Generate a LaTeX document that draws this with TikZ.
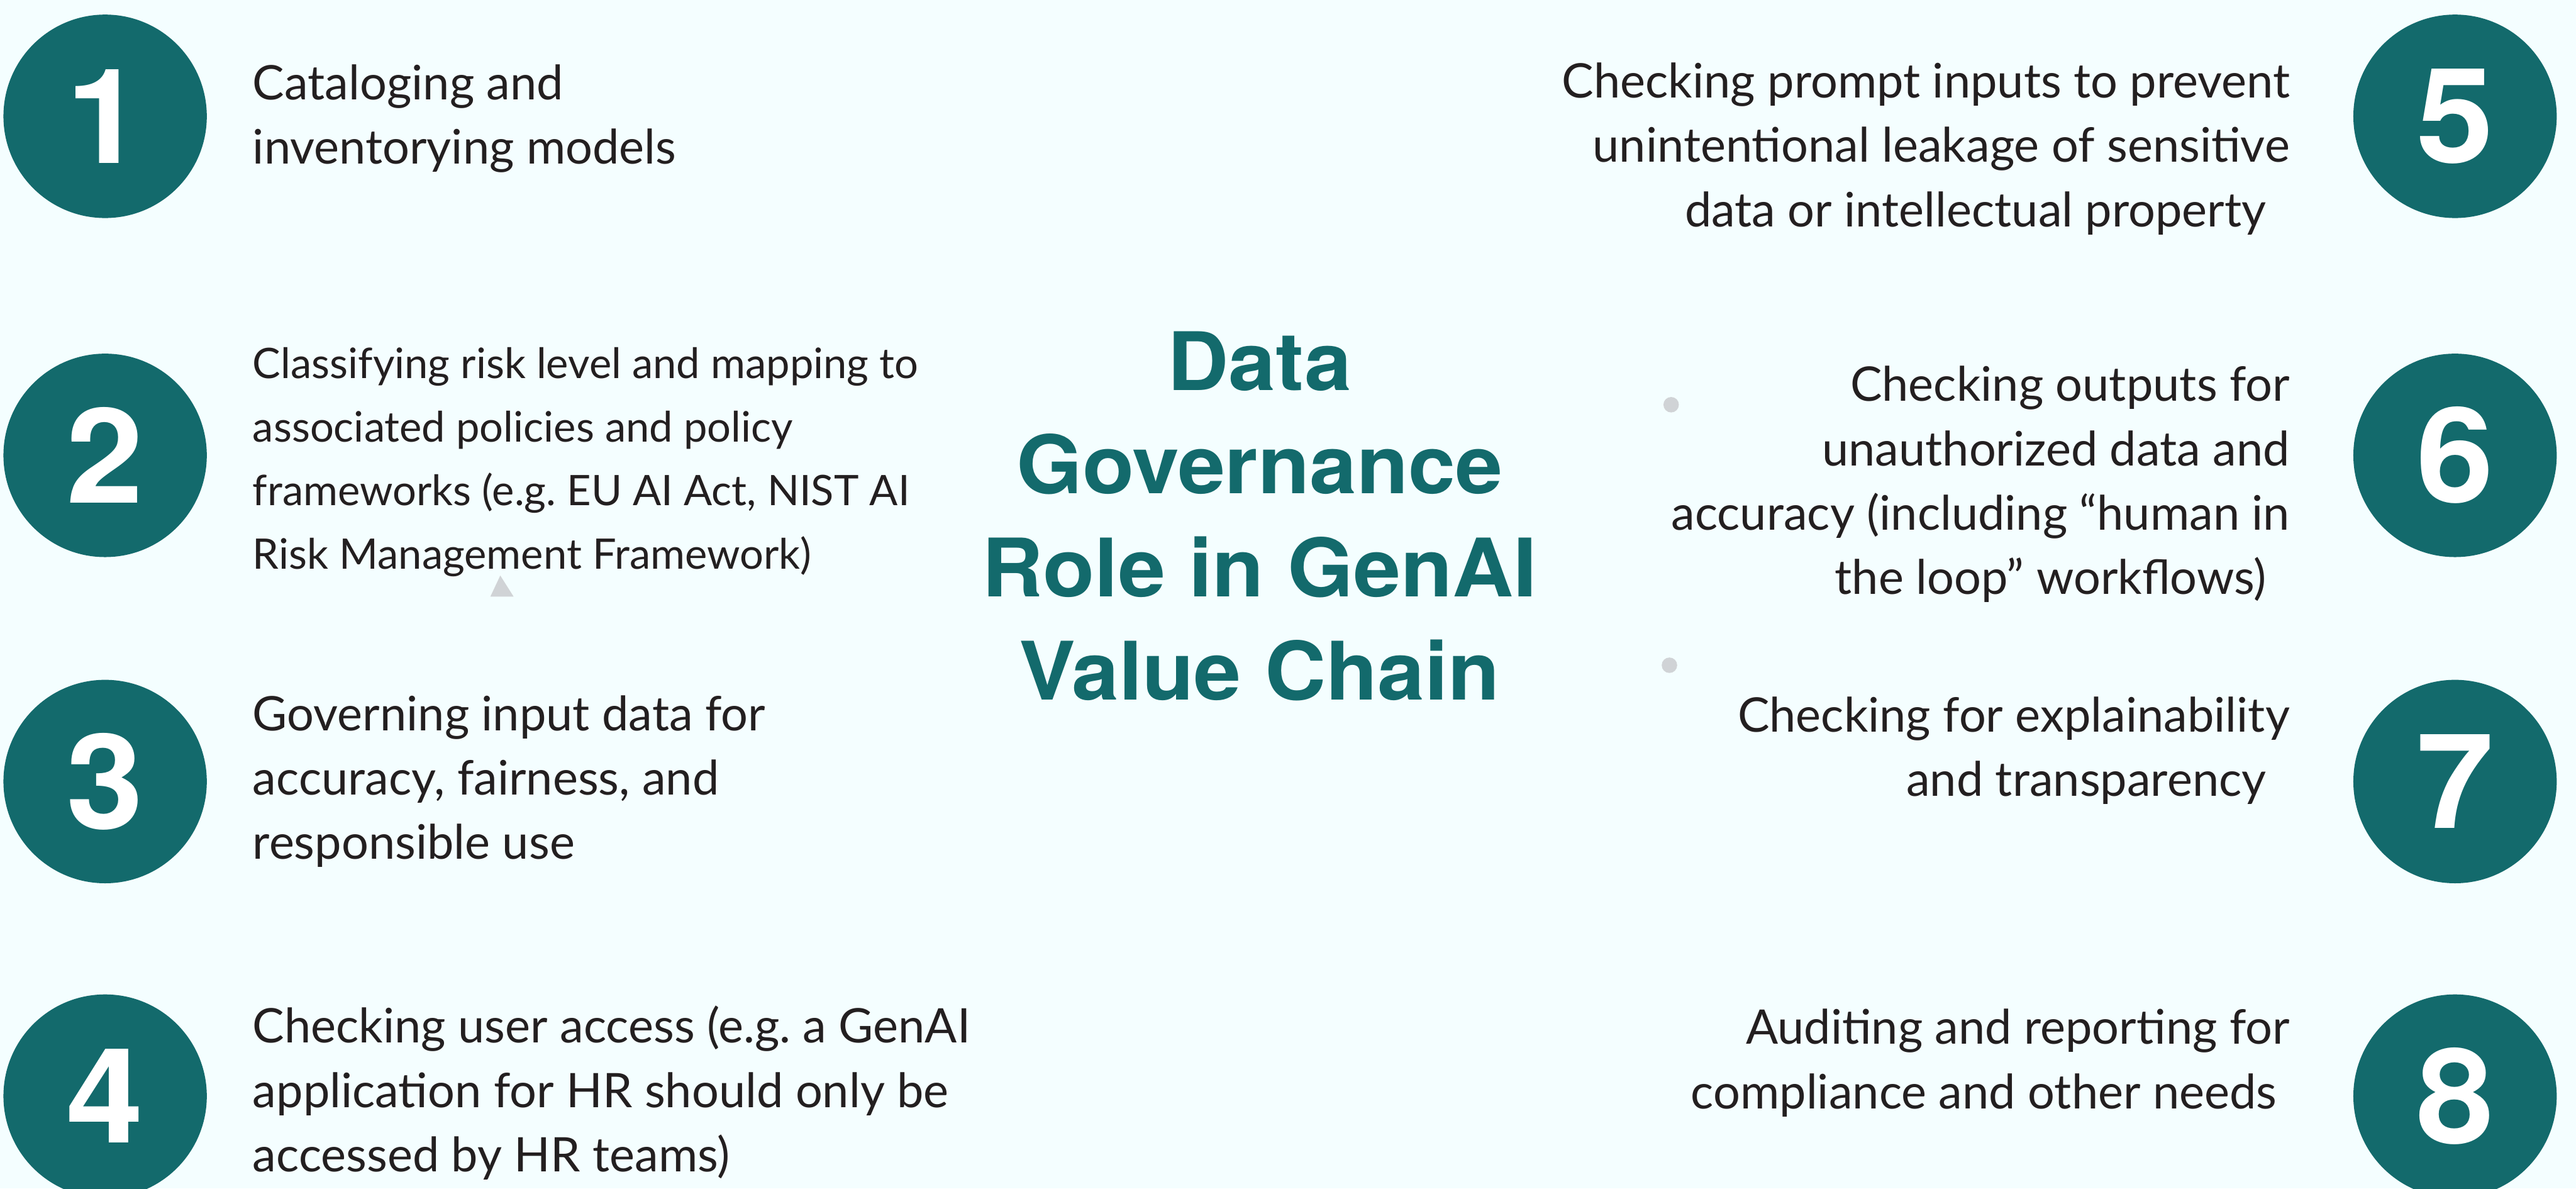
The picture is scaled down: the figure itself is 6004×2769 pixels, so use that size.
\documentclass[tikz,border=0pt]{standalone}
\usepackage{fontspec}
\newfontfamily\bodyfont{Lato}
\newfontfamily\headfont[FakeStretch=1.05]{TeX Gyre Heros}
\newfontfamily\digitfont[FakeStretch=1.05]{TeX Gyre Heros}
\definecolor{discteal}{RGB}{19,106,108}
\definecolor{paper}{RGB}{244,254,255}
\definecolor{ink}{RGB}{35,31,32}
\definecolor{markgrey}{RGB}{208,211,214}
\frenchspacing
\begin{document}
\begin{tikzpicture}[x=1pt,y=-1pt,
  numdisc/.style={circle, fill=discteal, minimum size=474pt, inner sep=0pt,
    text=white, font=\digitfont\bfseries\fontsize{308}{308}\selectfont},
  itemtext/.style={inner sep=0pt, text=ink,
    font=\bodyfont\frenchspacing\fontsize{111}{150}\selectfont},
  % multi-line nodes: the base anchor sits on the last line
  lefttext/.style={itemtext, align=left, anchor=base west},
  righttext/.style={itemtext, align=right, anchor=base east},
  headline/.style={inner sep=0pt, text=discteal, align=center, anchor=base,
    font=\headfont\bfseries\fontsize{188}{240}\selectfont},
  greydot/.style={circle, fill=markgrey, minimum size=36pt, inner sep=0pt}]
\useasboundingbox (0,0) rectangle (6004,2769);
\clip (0,0) rectangle (6004,2769);
\fill[paper] (0,0) rectangle (6004,2769);

% title
\node[headline] (title) at (2936,1630) {Data\\Governance\\Role in GenAI\\Value Chain};

% numbered discs, left column
\node[numdisc] (c1) at (245,271) {1};
\node[numdisc] (c2) at (245,1061) {2};
\node[numdisc] (c3) at (245,1821) {3};
\node[numdisc] (c4) at (245,2554) {4};
% numbered discs, right column
\node[numdisc] (c5) at (5722,271) {5};
\node[numdisc] (c6) at (5722,1061) {6};
\node[numdisc] (c7) at (5722,1821) {7};
\node[numdisc] (c8) at (5722,2554) {8};

% left descriptions
\node[lefttext] (t1) at (589,382) {Cataloging and\\inventorying models};
\node[lefttext, font=\bodyfont\frenchspacing\fontsize{98}{148}\selectfont] (t2) at (589,1326)
  {Classifying risk level and mapping to\\associated policies and policy\\frameworks (e.g. EU AI Act, NIST AI\\Risk Management Framework)};
\node[lefttext] (t3) at (589,2002) {Governing input data for\\accuracy, fairness, and\\responsible use};
\node[lefttext] (t4) at (589,2730) {Checking user access (e.g. a GenAI\\application for HR should only be\\accessed by HR teams)};

% right descriptions
\node[righttext] (t5) at (5337,528)
  {Checking prompt inputs to prevent\\unintentional leakage of sensitive\\data or intellectual property\kern55pt};
\node[righttext] (t6) at (5337,1385)
  {Checking outputs for\\unauthorized data and\\accuracy (including \textquotedblleft human in\\the loop\textquotedblright\ workflows)\kern55pt};
\node[righttext] (t7) at (5337,1855)
  {Checking for explainability\\and transparency\kern55pt};
\node[righttext] (t8) at (5337,2583)
  {Auditing and reporting for\\compliance and other needs\kern30pt};

% small grey marks
\node[greydot] (d1) at (3895,943) {};
\node[greydot] (d2) at (3891,1550) {};
\fill[markgrey] (1166,1341) -- (1197,1390) -- (1143,1390) -- cycle;
\end{tikzpicture}
\end{document}
